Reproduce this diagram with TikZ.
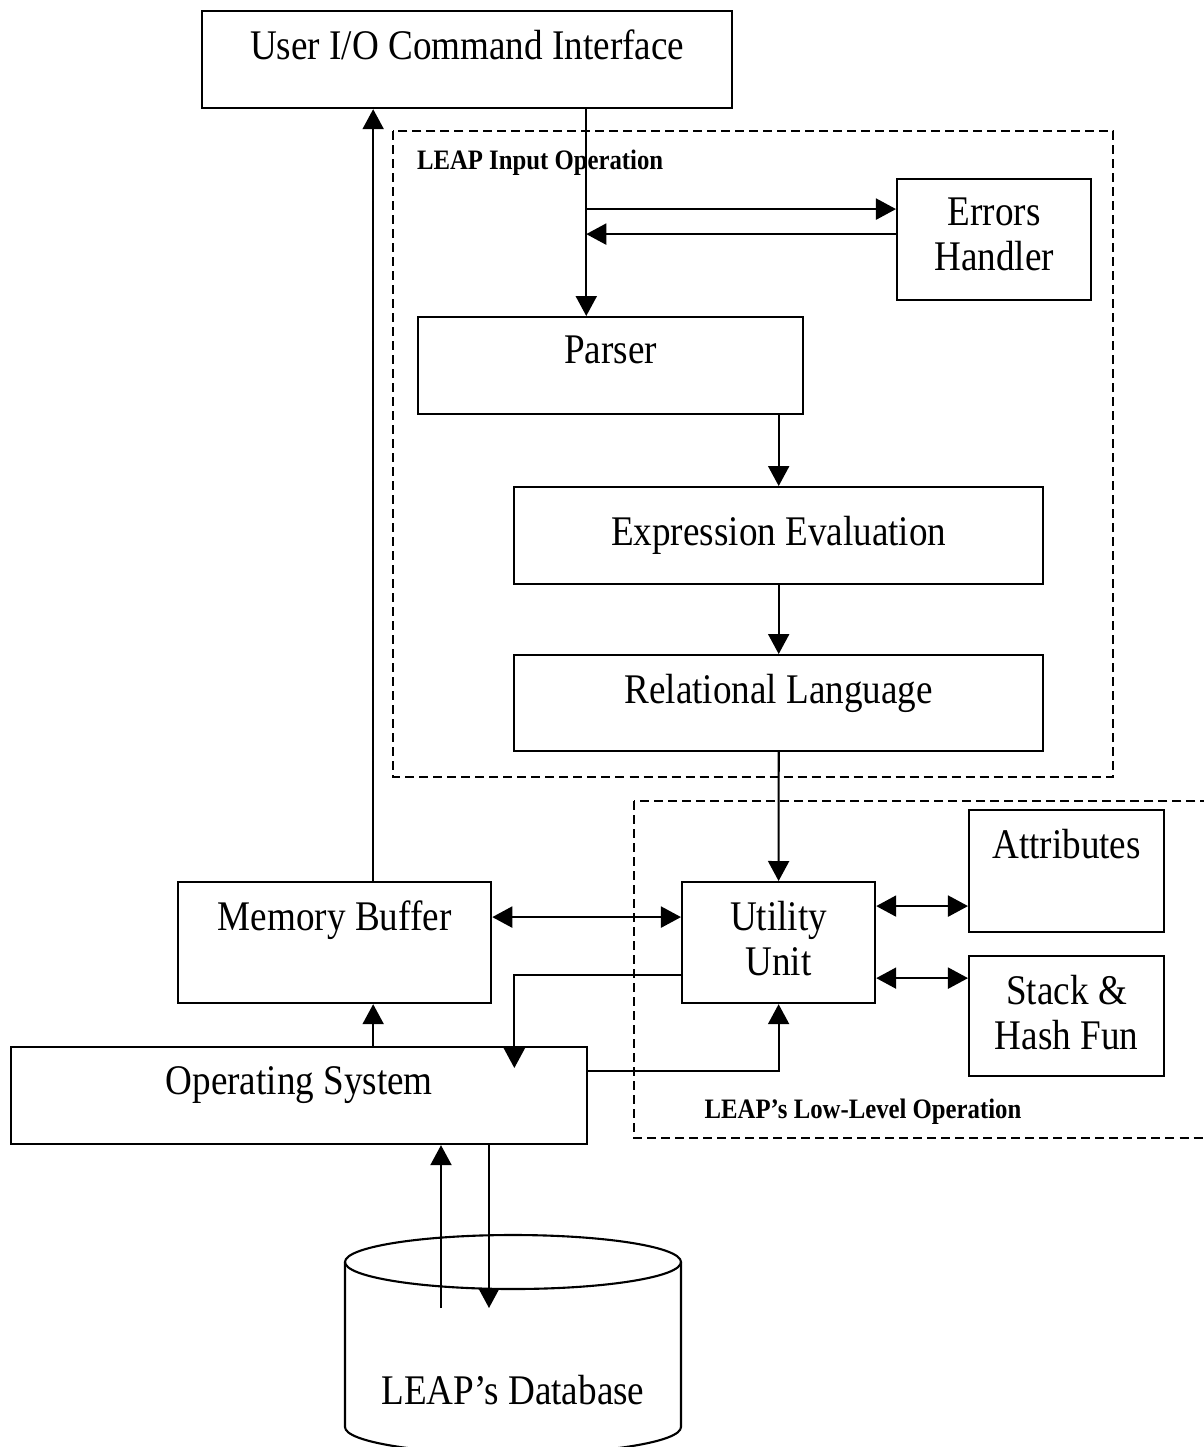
\documentclass[tikz,border=0pt]{standalone}
\usepackage{fontspec}
\setmainfont{Liberation Serif}[FakeStretch=0.88]
\usetikzlibrary{arrows.meta}

\begin{document}
\begin{tikzpicture}[x=0.01cm, y=-0.01cm, line width=0.6pt,
    font=\fontsize{12}{12.8}\selectfont,
    block/.style={draw, anchor=north west, inner sep=0pt},
    intop/.style={anchor=north, inner sep=0pt, yshift=-0.19cm, align=center},
    lbl/.style={font=\fontsize{8}{9}\selectfont\bfseries, inner sep=0pt},
    dashbox/.style={dash pattern=on 0.09cm off 0.05cm},
    arr/.style={-{Triangle[length=0.2cm, width=0.21cm]}},
    dbl/.style={{Triangle[length=0.2cm, width=0.21cm]}-{Triangle[length=0.2cm, width=0.21cm]}}]
  \useasboundingbox (0,0) rectangle (1204,1447);

  % boxes
  \node[block, minimum width=5.30cm, minimum height=0.97cm, label={[intop]north:User I/O Command Interface}] (ui) at (201,10) {};
  \node[block, minimum width=1.94cm, minimum height=1.21cm, label={[intop]north:Errors\\Handler}] (errh) at (896,178) {};
  \node[block, minimum width=3.85cm, minimum height=0.97cm, label={[intop]north:Parser}] (parser) at (417,316) {};
  \node[block, minimum width=5.29cm, minimum height=0.97cm] (expr) at (513,486) {Expression Evaluation};
  \node[block, minimum width=5.29cm, minimum height=0.96cm, label={[intop]north:Relational Language}] (rel) at (513,654) {};
  \node[block, minimum width=1.93cm, minimum height=1.21cm, label={[intop]north:Utility\\Unit}] (util) at (681,881) {};
  \node[block, minimum width=1.95cm, minimum height=1.22cm, label={[intop]north:Attributes}] (attr) at (968,809) {};
  \node[block, minimum width=1.95cm, minimum height=1.20cm, label={[intop]north:Stack \&\\Hash Fun}] (stack) at (968,955) {};
  \node[block, minimum width=3.13cm, minimum height=1.21cm, label={[intop]north:Memory Buffer}] (mem) at (177,881) {};
  \node[block, minimum width=5.76cm, minimum height=0.97cm, label={[intop]north:Operating System}] (os) at (10,1046) {};

  % database
  \draw (345,1262) -- (345,1427) arc (180:0:168 and 27) -- (681,1262);
  \draw (513,1262) ellipse (168 and 27);
  \node (dbtext) at (513,1390) {LEAP’s Database};
  \coordinate (dbin) at (489,1308);
  \coordinate (dbout) at (441,1308);

  % dashed groups
  \draw[dashbox] (393,131) rectangle (1113,777);
  \node[lbl, anchor=west] (inlbl) at (416,163) {LEAP Input Operation};
  \draw[dashbox] (634,801) rectangle (1215,1138);
  \node[lbl] (lowlbl) at (863,1112) {LEAP’s Low-Level Operation};

  % input side
  \coordinate (trunk) at ([xshift=1.19cm]ui.south);
  \draw[arr] (trunk) -- (trunk |- parser.north);
  \coordinate (eto) at ([yshift=0.305cm]errh.west);
  \coordinate (efrom) at ([yshift=0.055cm]errh.west);
  \draw[arr] (trunk |- eto) -- (eto);
  \draw[arr] (efrom) -- (trunk |- efrom);
  \draw[arr] (parser.south -| expr.north) -- (expr.north);
  \draw[arr] (expr.south) -- (rel.north);
  \draw[arr] (rel.south) -- (util.north);

  % low level side
  \coordinate (mu) at ([yshift=0.255cm]util.west);
  \draw[dbl] (mu -| mem.east) -- (mu);
  \coordinate (ua) at ([yshift=0.365cm]util.east);
  \draw[dbl] (ua) -- (ua -| attr.west);
  \coordinate (us) at ([yshift=-0.355cm]util.east);
  \draw[dbl] (us) -- (us -| stack.west);
  \coordinate (osin) at ([xshift=2.15cm, yshift=-0.22cm]os.north);
  \draw[arr] ([yshift=-0.325cm]util.west) -| (osin);
  \draw[arr] ([yshift=0.245cm]os.east) -| (util.south);

  % system side
  \coordinate (lift) at ([xshift=0.385cm]mem.south);
  \draw[arr] (lift |- os.north) -- (lift);
  \coordinate (memtop) at ([xshift=0.385cm]mem.north);
  \draw[arr] (memtop) -- (memtop |- ui.south);
  \draw[arr] (dbout) -- (dbout |- os.south);
  \draw[arr] (dbin |- os.south) -- (dbin);
\end{tikzpicture}
\end{document}
